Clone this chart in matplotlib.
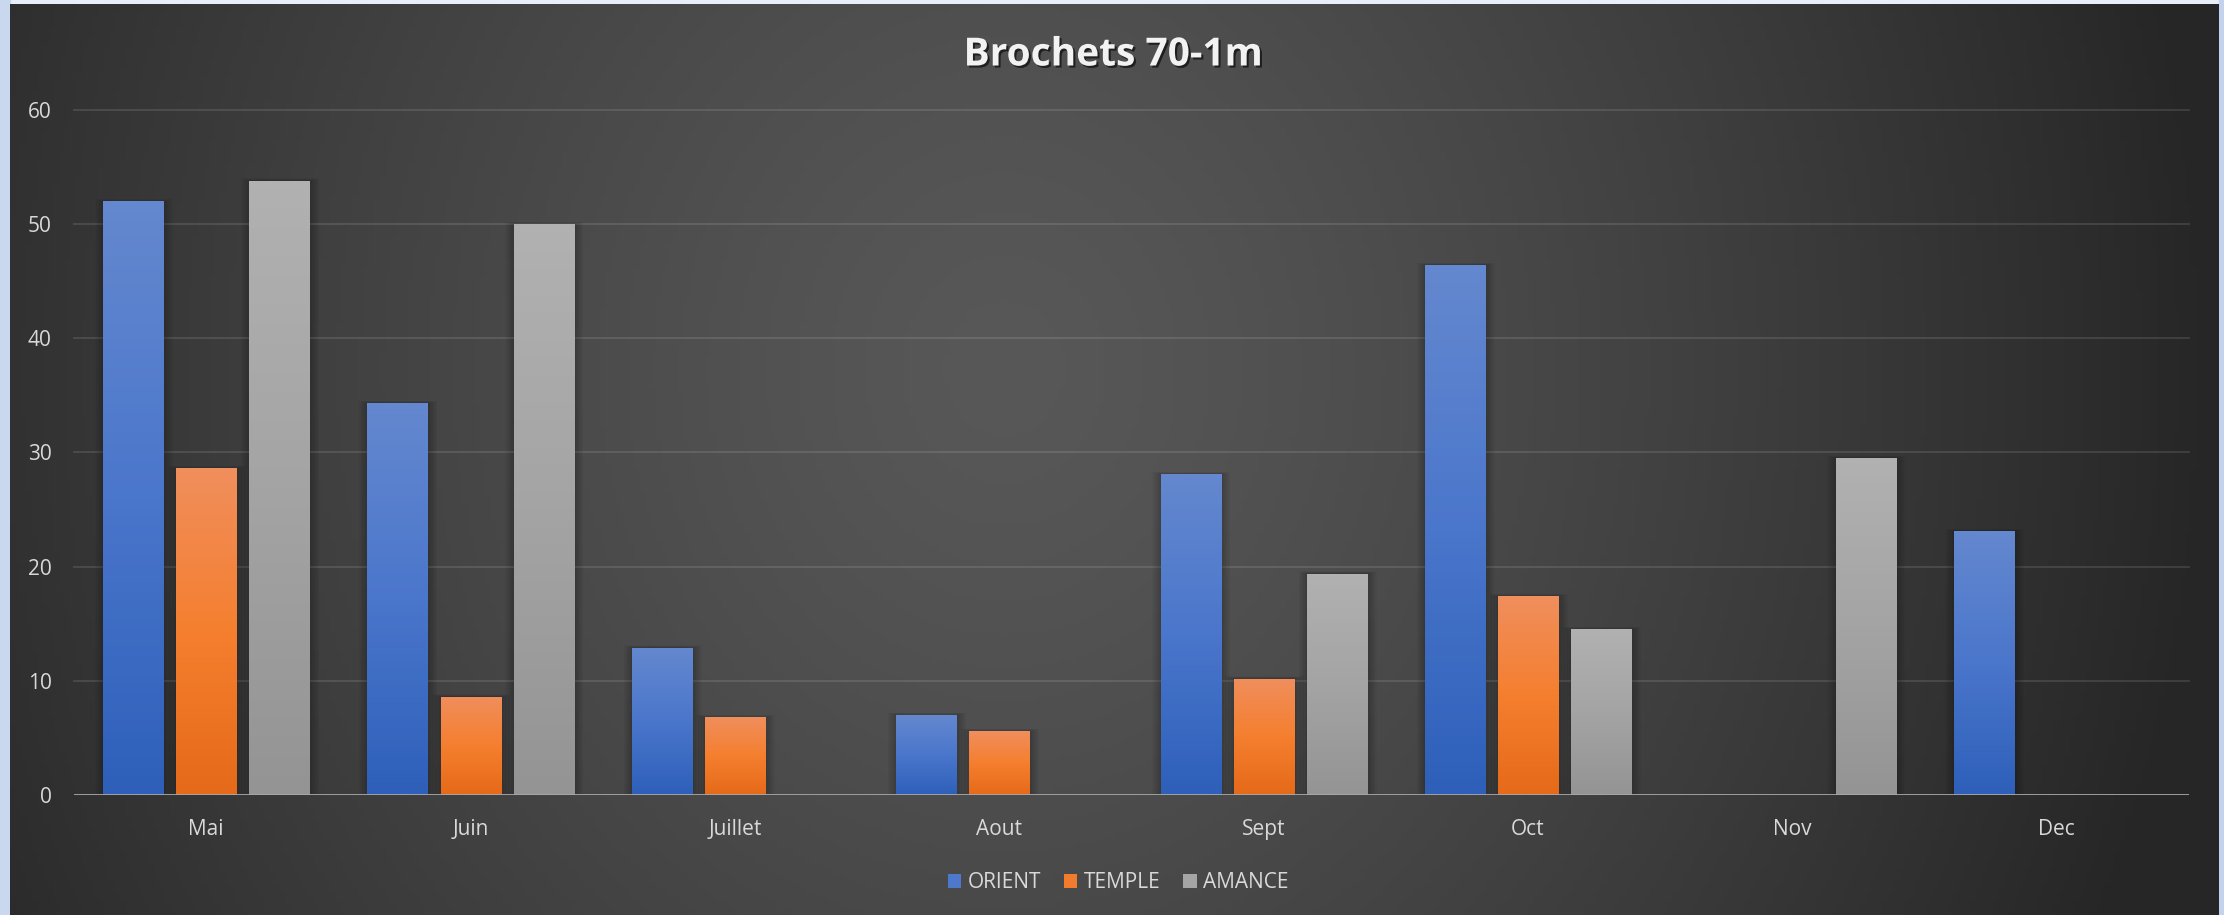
import matplotlib
matplotlib.use("Agg")
import matplotlib.pyplot as plt
import matplotlib.patheffects as pe
from matplotlib.patches import Rectangle, Patch
from matplotlib.colors import to_rgb
import numpy as np

# data ##################
months = ["Mai", "Juin", "Juillet", "Aout", "Sept", "Oct", "Nov", "Dec"]
orient = [52.0, 34.3, 12.9, 7.0, 28.1, 46.4, 0, 23.1]
temple = [28.6, 8.6, 6.8, 5.6, 10.2, 17.4, 0, 0]
amance = [53.8, 50.0, 0, 0, 19.4, 14.5, 29.5, 0]
series_names = ["ORIENT", "TEMPLE", "AMANCE"]
title = "Brochets 70-1m"
yticks = [0, 10, 20, 30, 40, 50, 60]
##########################

# gradient stops (top -> bottom) for each series
grads = {
    "ORIENT": ["#6488CF", "#4A76CB", "#2E60BA"],
    "TEMPLE": ["#F08E5C", "#F57F2F", "#E56A19"],
    "AMANCE": ["#B1B1B1", "#A4A4A4", "#949494"],
}
legcol = {"ORIENT": "#4D78CC", "TEMPLE": "#F27C2E", "AMANCE": "#A5A5A5"}
textcol = "#D9D9D9"
font = ["Open Sans", "DejaVu Sans"]

W, H = 2224, 915
fig = plt.figure(figsize=(W/100, H/100), dpi=100)
fig.patch.set_facecolor("#E9EFF9")

# dark panel with radial-ish gradient
px0, px1, py0, py1 = 10, 2219, 0, 911
bg = fig.add_axes([px0/W, py0/H, (px1-px0)/W, (py1-py0)/H], zorder=0)
gx, gy = np.meshgrid(np.linspace(0, 1, 400), np.linspace(0, 1, 200))
d = np.sqrt(((gx-0.45)/0.55)**2 + ((gy-0.4)/1.5)**2)
d = np.clip(d, 0, 1)**1.3
c0 = np.array(to_rgb("#585858"))
c1 = np.array(to_rgb("#262626"))
img = c0[None, None, :]*(1-d[..., None]) + c1[None, None, :]*d[..., None]
bg.imshow(img, extent=(0, 1, 0, 1), aspect="auto", origin="upper")
bg.set_axis_off()

# light strips of the backdrop
fig.patches.append(Rectangle((px1/W, 0), 1-px1/W, 1, transform=fig.transFigure,
                             color="#C3D3EE", zorder=-1))
fig.patches.append(Rectangle((0, 0), px0/W, 1, transform=fig.transFigure,
                             color="#C9D7EF", zorder=-1))

# main axes
ax = fig.add_axes([74/W, (H-795)/H, (2189-74)/W, (795-110)/H], zorder=1)
ax.set_facecolor("none")
for s in ax.spines.values():
    s.set_visible(False)

n = len(months)
x = np.arange(n)
off = 0.2765
bw = 0.227
vals = [orient, temple, amance]

def vgrad(stops, m=64):
    cs = [np.array(to_rgb(c)) for c in stops]
    t = np.linspace(0, 1, m)
    out = np.zeros((m, 1, 3))
    for i, tt in enumerate(t):
        if tt < 0.5:
            f = tt/0.5
            out[i, 0] = cs[0]*(1-f) + cs[1]*f
        else:
            f = (tt-0.5)/0.5
            out[i, 0] = cs[1]*(1-f) + cs[2]*f
    return out

for k, (name, v) in enumerate(zip(series_names, vals)):
    bars = ax.bar(x + (k-1)*off, v, bw, color="none", zorder=3)
    g = vgrad(grads[name])
    for r in bars:
        h = r.get_height()
        if h <= 0:
            continue
        x0 = r.get_x()
        # soft shadow, mostly on the sides
        for j in range(1, 7):
            dx = j*1.5/264
            dy = j*0.4/11.42
            ax.add_patch(Rectangle((x0-dx+0.8/264, 0), bw+2*dx, h+dy,
                                   color="black", alpha=0.035, lw=0, zorder=2))
        im = ax.imshow(g, extent=(x0, x0+bw, 0, h), aspect="auto",
                       origin="upper", zorder=3)
        im.set_clip_path(r)

ax.set_xlim(-0.5, n-0.5)
ax.set_ylim(0, 60)

# gridlines and baseline
for yv in yticks[1:]:
    ax.axhline(yv, color="white", alpha=0.12, lw=1.3, zorder=1, clip_on=False)
ax.axhline(0, color="#A8A8A8", lw=2.0, zorder=4)

ax.set_yticks(yticks)
ax.set_yticklabels([str(t) for t in yticks])
ax.set_xticks(x)
ax.set_xticklabels(months)
ax.tick_params(axis="y", length=0, pad=16, labelsize=15, labelcolor=textcol)
ax.tick_params(axis="x", length=0, pad=17, labelsize=15, labelcolor=textcol)
for lab in ax.get_xticklabels() + ax.get_yticklabels():
    lab.set_family(font)

# title
fig.text(1113/W, (H-55)/H, title, ha="center", va="center",
         fontsize=28, fontweight="bold", color="#F2F2F2", family=font,
         path_effects=[pe.withSimplePatchShadow(offset=(1.5, -1.5),
                                                shadow_rgbFace="black", alpha=0.6)])

# legend
handles = [Patch(facecolor=legcol[nm], edgecolor="none") for nm in series_names]
leg = fig.legend(handles, series_names, loc="center", ncol=3,
                 bbox_to_anchor=(1118/W, 32/H), frameon=False,
                 prop={"family": font, "size": 15},
                 handlelength=0.65, handleheight=0.65, handletextpad=0.3,
                 columnspacing=1.1)
for t in leg.get_texts():
    t.set_color(textcol)

fig.savefig("out.png", dpi=100, facecolor=fig.get_facecolor())
